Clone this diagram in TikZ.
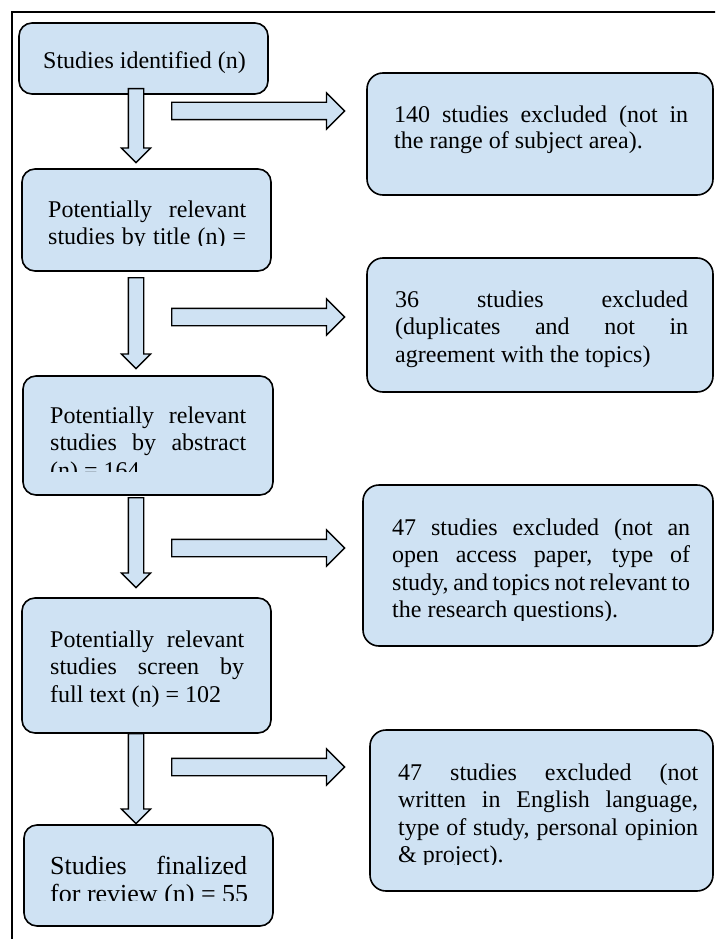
\documentclass[tikz,border=0pt]{standalone}
\usepackage{fontspec}
\setmainfont{Liberation Serif}
\usetikzlibrary{shapes.arrows}
\definecolor{boxblue}{RGB}{207,226,243}
\newcommand{\jl}[2][\hsize]{\makebox[#1][s]{\spaceskip=0pt #2}}

\begin{document}
\begin{tikzpicture}[
    x=1pt, y=-1pt,
    font=\fontsize{24pt}{27.5pt}\selectfont,
    box/.style={rectangle, draw=black, line width=1.6pt, fill=boxblue, rounded corners=13pt, inner sep=0pt},
    txt/.style={anchor=base west, inner sep=0pt, align=justify},
    rarrow/.style={single arrow, draw=black, line width=1.3pt, fill=boxblue, inner sep=8pt, single arrow head extend=9.5pt, minimum height=173pt, anchor=tail},
    darrow/.style={single arrow, draw=black, line width=1.3pt, fill=boxblue, inner sep=7pt, single arrow head extend=7pt, rotate=-90, anchor=tail},
]
\useasboundingbox (0,0) rectangle (715,939);
\clip (0,0) rectangle (715,939);

% Frame
\draw[line width=1.6pt] (12,12) rectangle (740,960);

% Left column
\node[box, minimum width=249pt, minimum height=71pt] (idbox) at (143.5,58.5) {};
\node[box, minimum width=249pt, minimum height=102pt] (titlebox) at (146.5,220) {};
\node[box, minimum width=250pt, minimum height=119pt] (absbox) at (148,435.5) {};
\node[box, minimum width=249pt, minimum height=135pt] (fullbox) at (146.5,665.5) {};
\node[box, minimum width=249pt, minimum height=101pt] (finalbox) at (148.5,875.5) {};

% Right column
\node[box, rounded corners=16pt, minimum width=346pt, minimum height=122pt] (excl1) at (540,134) {};
\node[box, rounded corners=16pt, minimum width=346pt, minimum height=134pt] (excl2) at (540,325) {};
\node[box, rounded corners=16pt, minimum width=350pt, minimum height=161pt] (excl3) at (538,565.5) {};
\node[box, rounded corners=16pt, minimum width=343pt, minimum height=161pt] (excl4) at (541.5,810.5) {};

% Texts
\node[txt] (idtext) at (43,69) {Studies identified (n)};
\begin{scope}
\clip (0,0) rectangle (715,245);
\node[txt, text width=198pt] (titletext) at (48,217) {\jl{Potentially relevant}\\\jl{studies by title (n) =}};
\end{scope}
\begin{scope}
\clip (0,0) rectangle (715,471);
\node[txt, text width=196pt] (abstext) at (50,423) {\jl{Potentially relevant}\\\jl{studies by abstract}\\(n) = 164};
\end{scope}
\node[txt, text width=194pt] (fulltext) at (50,647) {\jl{Potentially relevant}\\\jl{studies screen by}\\full text (n) = 102};
\begin{scope}
\clip (0,0) rectangle (715,900);
\node[txt, text width=215pt, font=\fontsize{26pt}{28pt}\selectfont] (finaltext) at (50,874) {\jl[197pt]{Studies finalized}\\for review (n) = 55};
\end{scope}

\node[txt, text width=294pt, font=\fontsize{24pt}{26pt}\selectfont] (excl1text) at (394,122) {\jl{140 studies excluded (not in}\\the range of subject area).};
\begin{scope}
\clip (0,0) rectangle (715,367);
\node[txt, text width=293pt] (excl2text) at (395,307) {\jl{36 studies excluded}\\\jl{(duplicates and not in}\\agreement with the topics)};
\end{scope}
\begin{scope}
\clip (0,0) rectangle (715,620);
\node[txt, text width=298pt] (excl3text) at (392,535) {\jl{47 studies excluded (not an}\\\jl{open access paper, type of}\\\jl{study, and topics not relevant to}\\the research questions).};
\end{scope}
\begin{scope}
\clip (0,0) rectangle (715,864);
\node[txt, text width=300pt] (excl4text) at (398,780) {\jl{47 studies excluded (not}\\\jl{written in English language,}\\\jl{type of study, personal opinion}\\\& project).};
\end{scope}

% Block arrows
\node[darrow, minimum height=74pt] (down1) at (136,88) {};
\node[darrow, minimum height=91pt] (down2) at (136,277) {};
\node[darrow, minimum height=90pt] (down3) at (136,497) {};
\node[darrow, minimum height=90pt] (down4) at (136,733) {};

\node[rarrow] (right1) at (171,111) {};
\node[rarrow] (right2) at (171,317) {};
\node[rarrow] (right3) at (171,548) {};
\node[rarrow] (right4) at (171,767) {};

\end{tikzpicture}
\end{document}
